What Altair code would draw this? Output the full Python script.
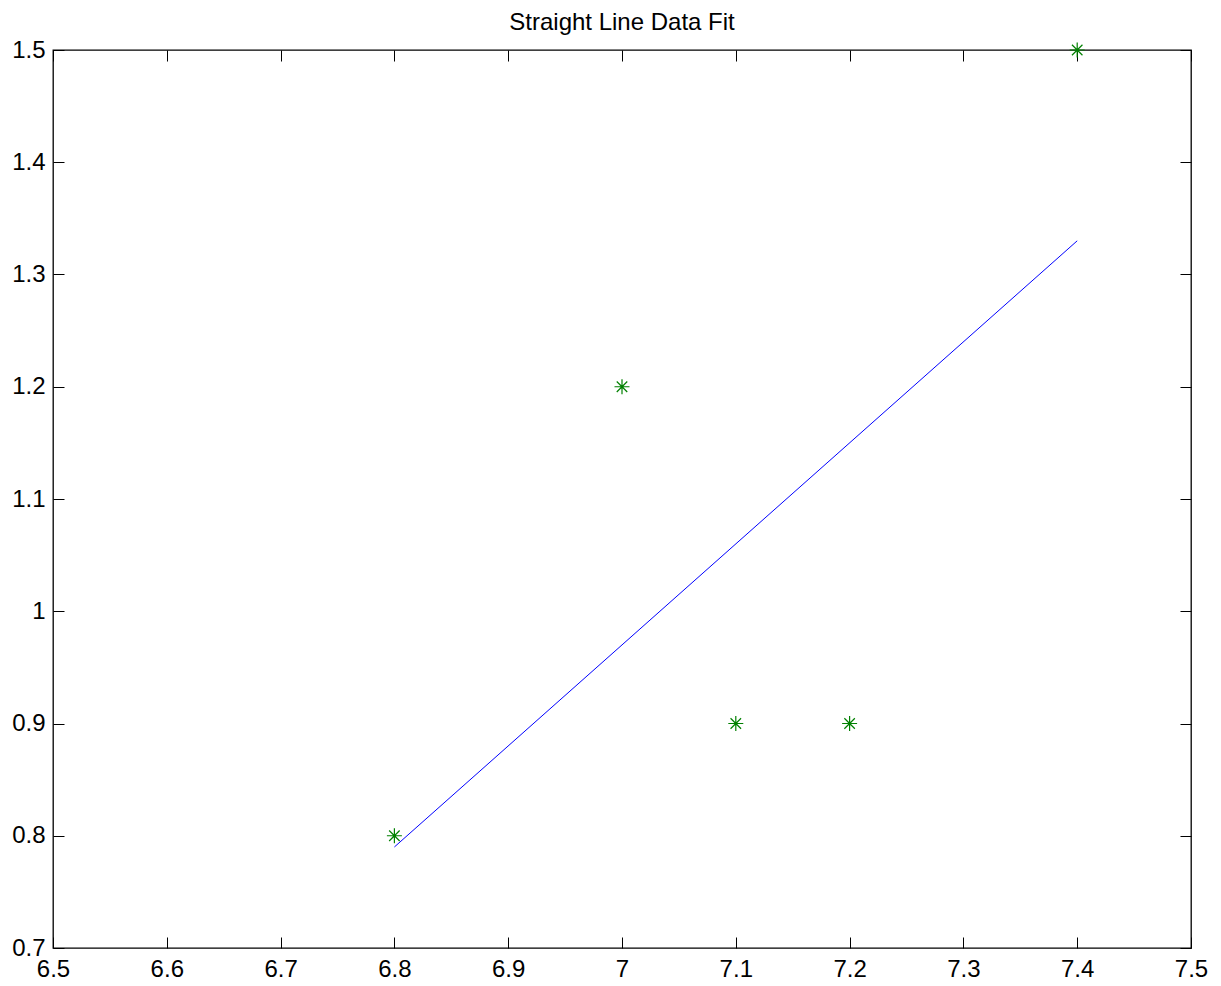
import altair as alt
import pandas as pd

# Data
pts_x = [6.8, 7.0, 7.1, 7.2, 7.4]
pts_y = [0.8, 1.2, 0.9, 0.9, 1.5]
fit_x = [6.8, 7.4]
fit_y = [0.79, 1.33]
x_ticks = [6.5, 6.6, 6.7, 6.8, 6.9, 7.0, 7.1, 7.2, 7.3, 7.4, 7.5]
y_ticks = [0.7, 0.8, 0.9, 1.0, 1.1, 1.2, 1.3, 1.4, 1.5]
title_text = "Straight Line Data Fit"

pts = pd.DataFrame({"x": pts_x, "y": pts_y})
fit = pd.DataFrame({"x": fit_x, "y": fit_y})

FONT = "Liberation Sans"
FS = 24
TICK = 11

xscale = alt.Scale(domain=[6.5, 7.5], nice=False, zero=False)
yscale = alt.Scale(domain=[0.7, 1.5], nice=False, zero=False)

label_x_axis = alt.Axis(orient="bottom", values=x_ticks, format="~g", ticks=False, domain=False,
                        grid=False, labelFont=FONT, labelFontSize=FS, labelColor="black",
                        labelPadding=9, title=None, labelFlush=False, labelOverlap=False)
label_y_axis = alt.Axis(orient="left", values=y_ticks, format="~g", ticks=False, domain=False,
                        grid=False, labelFont=FONT, labelFontSize=FS, labelColor="black",
                        labelPadding=8, title=None, labelFlush=False, labelOverlap=False)

def tick_axis(orient, vals):
    return alt.Axis(orient=orient, values=vals, labels=False, domain=False, grid=False,
                    ticks=True, tickSize=TICK, tickColor="black", tickWidth=1,
                    offset=-TICK, title=None)

line = alt.Chart(fit).mark_line(color="#0000ff", strokeWidth=1).encode(
    x=alt.X("x:Q", scale=xscale, axis=label_x_axis),
    y=alt.Y("y:Q", scale=yscale, axis=label_y_axis),
)

star = "M-1,0L1,0M0,-1L0,1M-0.7,-0.7L0.7,0.7M-0.7,0.7L0.7,-0.7"

points = alt.Chart(pts).mark_point(shape=star, filled=False, size=225, strokeWidth=1.2,
                                   color="#008000", opacity=1).encode(
    x=alt.X("x:Q", scale=xscale, axis=tick_axis("top", x_ticks)),
    y=alt.Y("y:Q", scale=yscale, axis=tick_axis("right", y_ticks)),
)

ghost = alt.Chart(pts).mark_point(opacity=0).encode(
    x=alt.X("x:Q", scale=xscale, axis=tick_axis("bottom", x_ticks)),
    y=alt.Y("y:Q", scale=yscale, axis=tick_axis("left", y_ticks)),
)

chart = alt.layer(ghost, line, points).resolve_axis(x="independent", y="independent").properties(
    width=1138,
    height=898,
    title=alt.TitleParams(title_text, font=FONT, fontSize=FS, fontWeight="normal",
                          color="black", anchor="middle", offset=3),
    autosize=alt.AutoSizeParams(type="none"),
    padding={"left": 45, "top": 42, "right": 22, "bottom": 40},
    background="white",
).configure_view(stroke="black", strokeWidth=1.3)

chart.save("out.html", embed_options={"renderer": "svg", "actions": False})
